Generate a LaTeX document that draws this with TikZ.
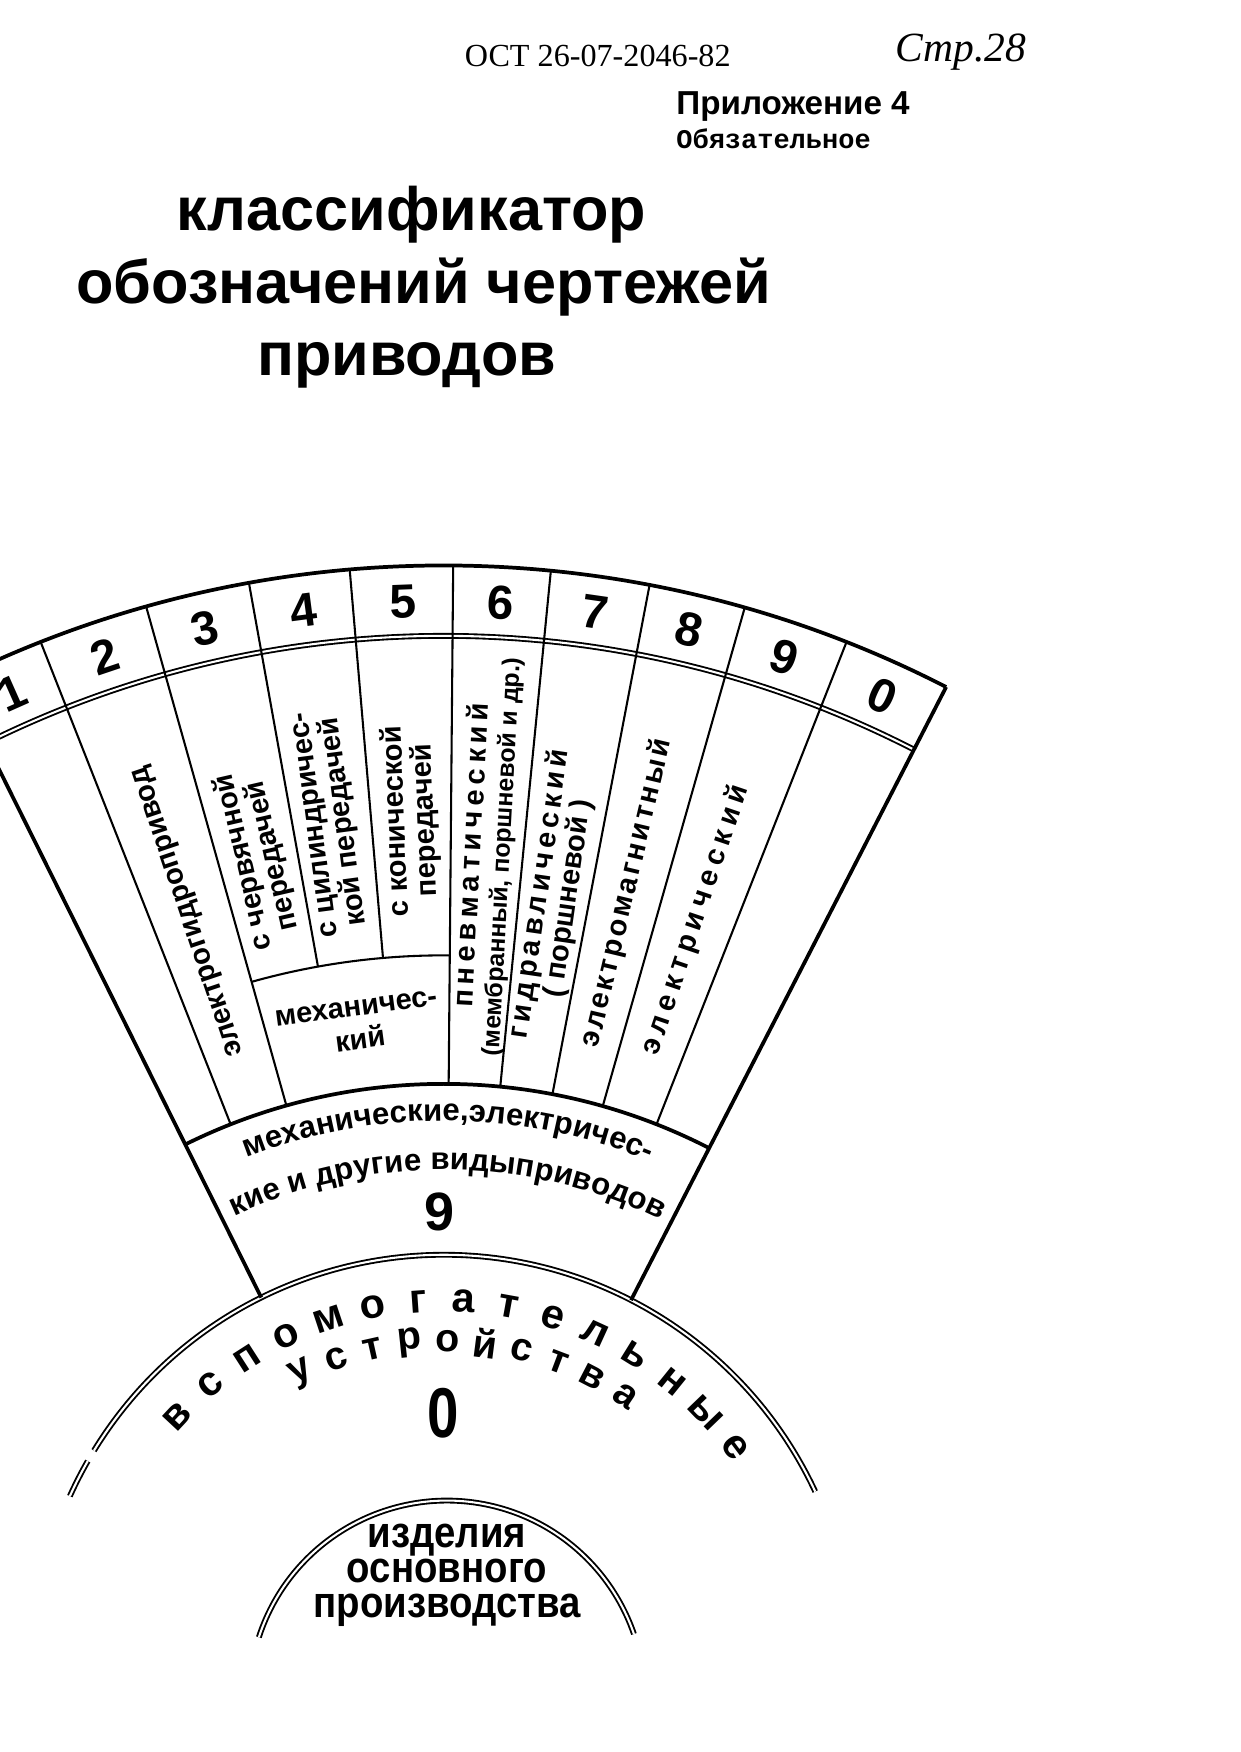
\documentclass[tikz,border=0pt]{standalone}
\usepackage{fontspec}
\setmainfont{Liberation Sans}
\newfontfamily\serfont{Liberation Serif}
\newfontfamily\typfont{Liberation Mono}
\usetikzlibrary{decorations.text}

\begin{document}
\begin{tikzpicture}[x=0.018925cm,y=0.018925cm,
  heavy/.style={line width=1.8pt},
  thin/.style={line width=1pt},
  dbl/.style={double,double distance=1pt,line width=0.9pt},
  ttl/.style={font=\fontsize{29.5}{29.5}\selectfont\bfseries,anchor=base},
  num/.style={font=\fontsize{23}{23}\selectfont\bfseries,inner sep=0pt},
  lbl/.style={font=\fontsize{14}{14}\selectfont\bfseries,align=center,inner sep=1pt},
  arcletter/.style={font=\fontsize{20}{20}\selectfont\bfseries,inner sep=0pt},
  devletter/.style={font=\fontsize{19}{19}\selectfont\bfseries,inner sep=0pt},
  corelbl/.style={font=\fontsize{21}{17}\selectfont\bfseries,align=center,xscale=0.88}]
\useasboundingbox (0,0) rectangle (1110,-1568);
\clip (0,0) rectangle (1110,-1568);

\node[font=\serfont\fontsize{15.5}{15.5}\selectfont] (ost) at (535,-50) {ОСТ 26-07-2046-82};
\node[font=\serfont\itshape\fontsize{20}{20}\selectfont] (page) at (860,-47) {Стр.28};
\node[font=\fontsize{16}{16}\selectfont\bfseries,anchor=west,inner sep=0pt] (appx) at (605,-95) {Приложение 4};
\node[font=\typfont\bfseries\fontsize{13}{13}\selectfont,anchor=west,inner sep=0pt] (oblig) at (605,-124) {Обязательное};

\node[ttl] (ttla) at (368,-206) {классификатор};
\node[ttl] (ttlb) at (379,-272) {обозначений чертежей};
\node[ttl] (ttlc) at (364,-336) {приводов};

\begin{scope}[shift={(397,-1490)}]
\coordinate (hub) at (0,0);
\draw[dbl] (116.4:921) arc[start angle=116.4,end angle=62.8,radius=921];
\draw[dbl] (148.5:367) arc[start angle=148.5,end angle=25,radius=367];
\draw[dbl] (155.7:367) arc[start angle=155.7,end angle=150.2,radius=367];
\draw[heavy] (116.4:984) arc[start angle=116.4,end angle=62.8,radius=984];
\draw[heavy] (116.4:520) arc[start angle=116.4,end angle=62.8,radius=520];
\draw[thin] (105.7:635) arc[start angle=105.7,end angle=89.5,radius=635];
\draw[heavy] (116.4:984) -- (116.4:367);
\draw[heavy] (62.8:984) -- (62.8:367);
\foreach \a in {111.5,105.7,89.5,84.4,79.2,74.1,68.5}
  \draw[thin] (\a:984) -- (\a:520);
\foreach \a in {100.2,94.9}
  \draw[thin] (\a:984) -- (\a:635);

\foreach \n/\a in {1/113.95,2/108.6,3/102.95,4/97.55,5/92.2,6/86.95,7/81.8,8/76.65,9/71.3,0/65.65}
  \node[num,rotate=\a-90] (num\n) at (\a:952) {\n};

\node[lbl,rotate=108.6] (elhyd) at (108.6:712) {электрогидропривод};
\node[lbl,rotate=102.95] (worm) at (102.95:740) {с червячной\\передачей};
\node[lbl,rotate=97.55] (spur) at (97.55:760) {с цилиндричес-\\кой передачей};
\node[lbl,rotate=92.2] (bevel) at (92.2:756) {с конической\\передачей};
\node[lbl,rotate=7.6] (mech) at (97.6:578) {механичес-\\[2pt]кий};
\node[lbl,rotate=86.95] (pneu) at (86.95:725) {{\addfontfeature{LetterSpace=18}пневматический}\\{\fontsize{12}{12}\selectfont(мембранный, поршневой и др.)}};
\node[lbl,rotate=81.8] (hydr) at (81.8:695) {{\addfontfeature{LetterSpace=15}гидравлический}\\( поршневой )};
\node[lbl,rotate=76.65] (emag) at (76.65:710) {\addfontfeature{LetterSpace=10}электромагнитный};
\node[lbl,rotate=71.3] (elec) at (71.3:704) {\addfontfeature{LetterSpace=20}электрический};

\path[decorate,decoration={text along path,text align=center,text={|\fontsize{15}{15}\selectfont\bfseries|механические,электричес-}}] (116:487) arc[start angle=116,end angle=63,radius=487];
\path[decorate,decoration={text along path,text align=center,text={|\fontsize{15}{15}\selectfont\bfseries|кие и другие видыприводов}}] (116:443) arc[start angle=116,end angle=63,radius=443];
\node[font=\fontsize{26}{26}\selectfont\bfseries] (nine) at (90.5:405) {9};

\foreach \ch [count=\i, evaluate=\i as \a using 137-(\i-1)*7.16] in {в,с,п,о,м,о,г,а,т,е,л,ь,н,ы,е}
  \node[arcletter,rotate=\a-90] (aux\i) at (\a:326) {\ch};
\foreach \ch [count=\i, evaluate=\i as \a using 116-(\i-1)*6.67] in {у,с,т,р,о,й,с,т,в,а}
  \node[devletter,rotate=\a-90] (dev\i) at (\a:290) {\ch};
\node[font=\fontsize{34}{34}\selectfont\bfseries,xscale=0.8] (zero) at (90:225) {0};
\end{scope}

\coordinate (core) at (400,-1520);
\draw[dbl] (core) ++(162:177) arc[start angle=162,end angle=19,radius=177];
\node[corelbl] (prod) at (400,-1410) {изделия\\основного\\производства};
\end{tikzpicture}
\end{document}
